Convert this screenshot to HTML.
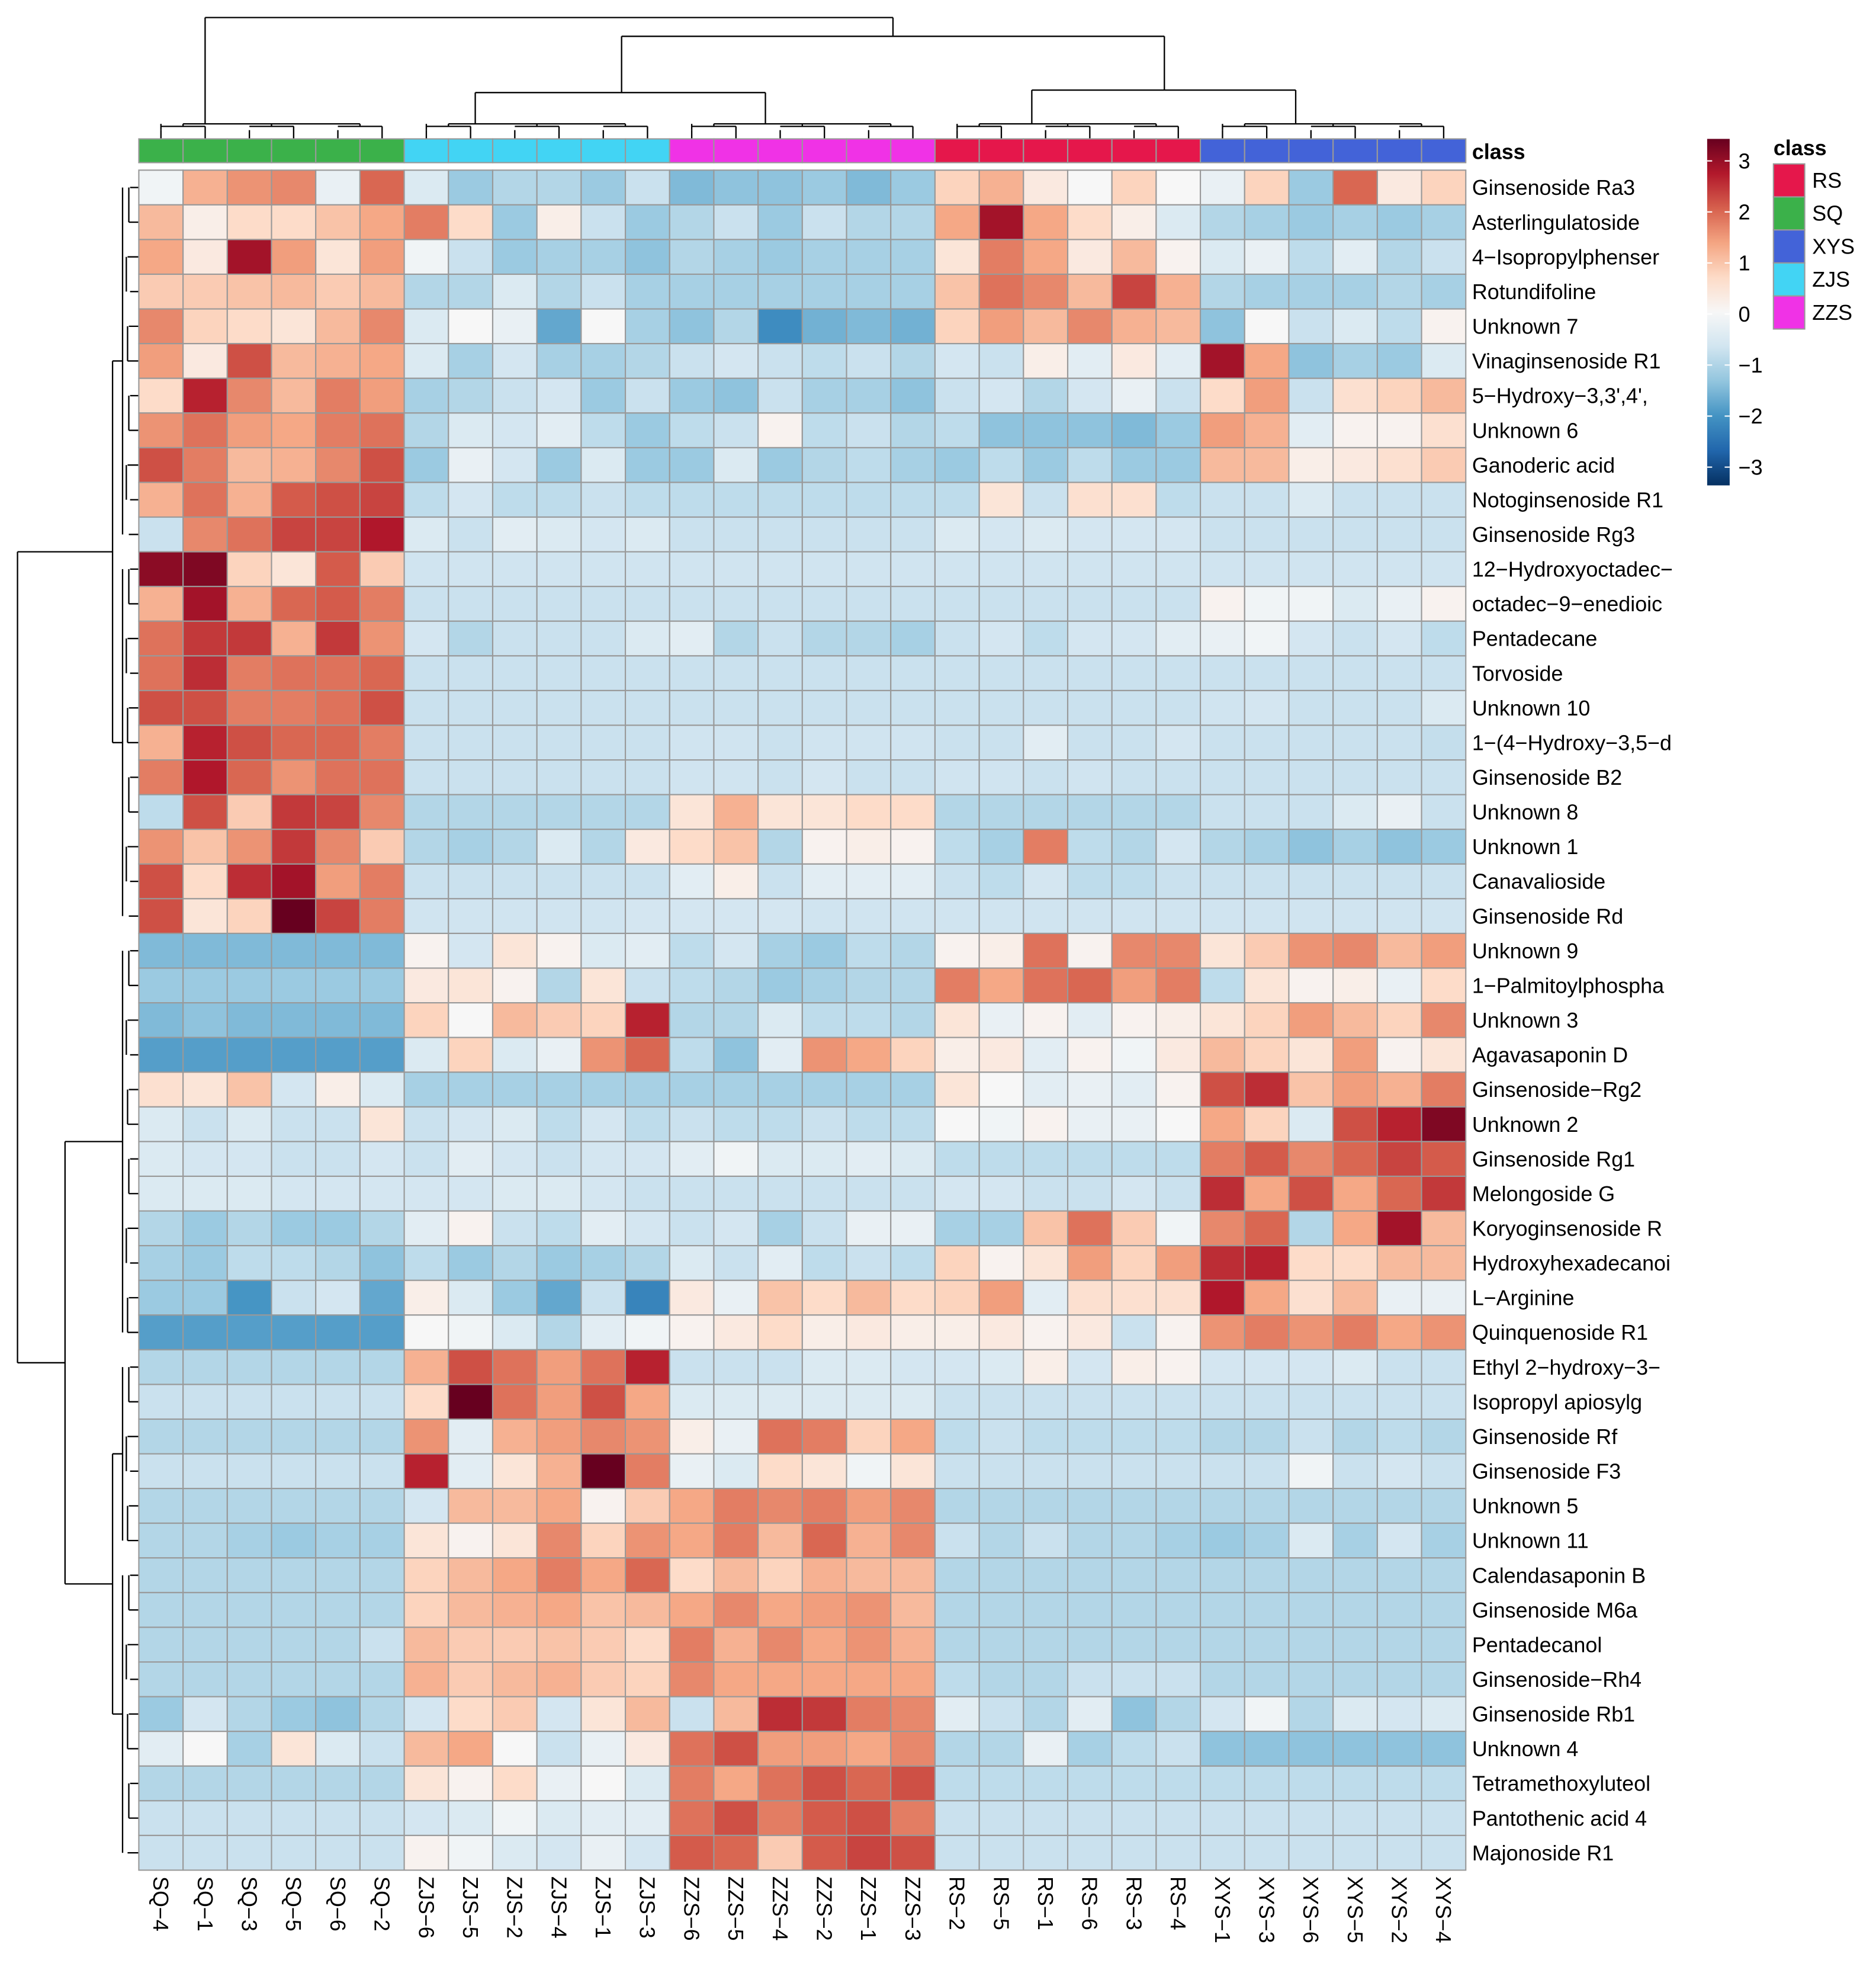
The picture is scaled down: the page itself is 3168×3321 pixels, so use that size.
<!DOCTYPE html>
<html><head><meta charset="utf-8"><style>
html,body{margin:0;padding:0;background:#fff;}
svg{display:block;font-family:"Liberation Sans",Arial,sans-serif;}
</style></head><body>
<svg id="chart" width="3168" height="3321" viewBox="0 0 1500 1572.4" xmlns="http://www.w3.org/2000/svg">
<g id="coldend"></g>
<g id="rowdend"></g>
<g id="classbar"></g>
<g id="cells"></g>
<g id="rowlabels"></g>
<g id="collabels"></g>
<g id="legend"></g>
<g id="classlegend"></g>
</svg>
<script>
const colLabels = ["SQ−4","SQ−1","SQ−3","SQ−5","SQ−6","SQ−2","ZJS−6","ZJS−5","ZJS−2","ZJS−4","ZJS−1","ZJS−3","ZZS−6","ZZS−5","ZZS−4","ZZS−2","ZZS−1","ZZS−3","RS−2","RS−5","RS−1","RS−6","RS−3","RS−4","XYS−1","XYS−3","XYS−6","XYS−5","XYS−2","XYS−4"];
const colClasses = ["SQ","SQ","SQ","SQ","SQ","SQ","ZJS","ZJS","ZJS","ZJS","ZJS","ZJS","ZZS","ZZS","ZZS","ZZS","ZZS","ZZS","RS","RS","RS","RS","RS","RS","XYS","XYS","XYS","XYS","XYS","XYS"];
const classNames = ["RS","SQ","XYS","ZJS","ZZS"];
const classColors = ["#e5174b","#3bb14a","#4363d8","#42d4f4","#f032e6"];
const legendTicks = [3,2,1,0,-1,-2,-3];
const rowLabels = ["Ginsenoside Ra3","Asterlingulatoside","4−Isopropylphenser","Rotundifoline","Unknown 7","Vinaginsenoside R1","5−Hydroxy−3,3',4',","Unknown 6","Ganoderic acid","Notoginsenoside R1","Ginsenoside Rg3","12−Hydroxyoctadec−","octadec−9−enedioic","Pentadecane","Torvoside","Unknown 10","1−(4−Hydroxy−3,5−d","Ginsenoside B2","Unknown 8","Unknown 1","Canavalioside","Ginsenoside Rd","Unknown 9","1−Palmitoylphospha","Unknown 3","Agavasaponin D","Ginsenoside−Rg2","Unknown 2","Ginsenoside Rg1","Melongoside G","Koryoginsenoside R","Hydroxyhexadecanoi","L−Arginine","Quinquenoside R1","Ethyl 2−hydroxy−3−","Isopropyl apiosylg","Ginsenoside Rf","Ginsenoside F3","Unknown 5","Unknown 11","Calendasaponin B","Ginsenoside M6a","Pentadecanol","Ginsenoside−Rh4","Ginsenoside Rb1","Unknown 4","Tetramethoxyluteol","Pantothenic acid 4","Majonoside R1"];
const values = [
[-0.1,1.1,1.4,1.5,-0.2,1.8, -0.4,-1.0,-0.8,-0.8,-1.0,-0.6, -1.2,-1.1,-1.1,-1.0,-1.2,-1.0, 0.7,1.1,0.3,0,0.7,0, -0.2,0.7,-1.0,1.8,0.3,0.7],
[1.0,0.2,0.6,0.6,0.9,1.2, 1.6,0.6,-1.0,0.2,-0.6,-1.0, -0.8,-0.6,-1.0,-0.6,-0.8,-0.8, 1.2,2.6,1.2,0.6,0.2,-0.4, -0.8,-0.9,-1.0,-0.9,-1.0,-0.9],
[1.2,0.3,2.6,1.3,0.4,1.3, -0.1,-0.6,-1.0,-0.9,-0.9,-1.1, -0.8,-0.9,-1.0,-0.9,-0.9,-0.9, 0.4,1.6,1.2,0.3,1.0,0.1, -0.4,-0.2,-0.7,-0.3,-0.8,-0.6],
[0.8,0.8,0.9,1.0,0.8,1.0, -0.8,-0.8,-0.4,-0.8,-0.6,-0.9, -0.9,-0.9,-0.9,-0.9,-0.9,-0.9, 0.9,1.7,1.5,1.0,2.1,1.1, -0.8,-0.9,-0.9,-0.9,-0.8,-0.9],
[1.5,0.7,0.6,0.4,1.0,1.5, -0.4,0,-0.2,-1.4,0,-0.9, -1.1,-0.8,-1.7,-1.3,-1.2,-1.3, 0.7,1.3,1.0,1.5,1.1,1.0, -1.1,0,-0.6,-0.4,-0.7,0.1],
[1.3,0.3,2.0,1.0,1.1,1.2, -0.4,-0.9,-0.5,-0.9,-0.9,-0.8, -0.6,-0.5,-0.6,-0.7,-0.6,-0.8, -0.5,-0.6,0.2,-0.3,0.3,-0.3, 2.6,1.2,-1.1,-0.9,-1.0,-0.4],
[0.6,2.4,1.5,1.0,1.6,1.3, -0.9,-0.8,-0.6,-0.5,-1.0,-0.6, -1.0,-1.1,-0.6,-0.9,-0.9,-1.1, -0.6,-0.5,-0.8,-0.5,-0.2,-0.6, 0.6,1.3,-0.6,0.5,0.7,1.0],
[1.4,1.7,1.3,1.2,1.6,1.7, -0.8,-0.4,-0.5,-0.3,-0.7,-1.0, -0.7,-0.6,0.1,-0.7,-0.6,-0.8, -0.7,-1.1,-1.1,-1.1,-1.2,-1.0, 1.3,1.1,-0.3,0.1,0.1,0.5],
[2.0,1.6,1.0,1.1,1.5,2.0, -1.0,-0.2,-0.5,-1.0,-0.4,-1.0, -1.0,-0.4,-1.0,-0.8,-0.7,-0.9, -1.0,-0.7,-1.0,-0.7,-1.0,-1.0, 1.0,1.0,0.2,0.3,0.5,0.8],
[1.1,1.7,1.1,1.9,2.0,2.1, -0.7,-0.5,-0.7,-0.7,-0.6,-0.7, -0.7,-0.7,-0.7,-0.7,-0.7,-0.7, -0.7,0.4,-0.6,0.5,0.5,-0.7, -0.6,-0.6,-0.4,-0.6,-0.6,-0.6],
[-0.6,1.5,1.7,2.1,2.1,2.5, -0.4,-0.6,-0.3,-0.4,-0.5,-0.4, -0.6,-0.6,-0.6,-0.6,-0.6,-0.6, -0.4,-0.5,-0.4,-0.5,-0.5,-0.5, -0.6,-0.6,-0.6,-0.6,-0.6,-0.6],
[2.8,2.9,0.7,0.4,1.9,0.8, -0.55,-0.55,-0.55,-0.55,-0.55,-0.55, -0.55,-0.55,-0.55,-0.55,-0.55,-0.55, -0.55,-0.55,-0.55,-0.55,-0.55,-0.55, -0.55,-0.55,-0.55,-0.55,-0.55,-0.55],
[1.1,2.6,1.1,1.8,1.9,1.6, -0.6,-0.6,-0.6,-0.6,-0.6,-0.6, -0.6,-0.6,-0.6,-0.6,-0.6,-0.6, -0.6,-0.6,-0.6,-0.6,-0.6,-0.6, 0.1,-0.1,-0.1,-0.4,-0.2,0.1],
[1.7,2.2,2.2,1.1,2.2,1.4, -0.5,-0.8,-0.6,-0.6,-0.6,-0.4, -0.3,-0.8,-0.6,-0.8,-0.8,-0.9, -0.6,-0.5,-0.7,-0.5,-0.5,-0.3, -0.2,-0.1,-0.5,-0.6,-0.5,-0.7],
[1.7,2.3,1.6,1.7,1.7,1.8, -0.6,-0.6,-0.6,-0.6,-0.6,-0.6, -0.6,-0.6,-0.6,-0.6,-0.6,-0.6, -0.6,-0.6,-0.6,-0.6,-0.6,-0.6, -0.6,-0.6,-0.6,-0.6,-0.6,-0.6],
[2.0,2.0,1.6,1.6,1.7,2.0, -0.6,-0.6,-0.6,-0.6,-0.6,-0.6, -0.6,-0.6,-0.6,-0.6,-0.6,-0.6, -0.6,-0.6,-0.6,-0.6,-0.6,-0.6, -0.55,-0.5,-0.6,-0.6,-0.6,-0.4],
[1.1,2.4,2.0,1.8,1.8,1.6, -0.6,-0.6,-0.6,-0.6,-0.6,-0.6, -0.55,-0.55,-0.6,-0.55,-0.55,-0.55, -0.6,-0.6,-0.3,-0.6,-0.6,-0.5, -0.6,-0.6,-0.6,-0.6,-0.6,-0.65],
[1.6,2.5,1.8,1.4,1.7,1.7, -0.6,-0.6,-0.6,-0.6,-0.6,-0.6, -0.55,-0.55,-0.6,-0.5,-0.6,-0.6, -0.55,-0.55,-0.6,-0.55,-0.6,-0.6, -0.6,-0.6,-0.6,-0.6,-0.6,-0.6],
[-0.7,2.0,0.8,2.2,2.1,1.5, -0.8,-0.8,-0.8,-0.8,-0.8,-0.8, 0.4,1.1,0.4,0.4,0.6,0.6, -0.8,-0.8,-0.8,-0.8,-0.8,-0.8, -0.6,-0.6,-0.6,-0.4,-0.2,-0.6],
[1.4,0.9,1.4,2.2,1.5,0.8, -0.8,-0.9,-0.8,-0.4,-0.8,0.3, 0.6,0.9,-0.8,0.1,0.2,0.1, -0.7,-0.9,1.6,-0.7,-0.8,-0.5, -0.8,-0.9,-1.1,-0.9,-1.1,-1.0],
[2.0,0.6,2.3,2.6,1.3,1.6, -0.6,-0.6,-0.6,-0.6,-0.6,-0.6, -0.3,0.2,-0.6,-0.3,-0.3,-0.3, -0.6,-0.7,-0.5,-0.7,-0.7,-0.6, -0.6,-0.6,-0.6,-0.6,-0.6,-0.6],
[2.0,0.4,0.7,3.2,2.1,1.6, -0.55,-0.55,-0.55,-0.55,-0.55,-0.5, -0.5,-0.5,-0.5,-0.55,-0.55,-0.55, -0.55,-0.55,-0.55,-0.55,-0.55,-0.55, -0.55,-0.55,-0.55,-0.55,-0.55,-0.55],
[-1.2,-1.2,-1.2,-1.2,-1.2,-1.2, 0.1,-0.5,0.4,0.1,-0.4,-0.3, -0.7,-0.5,-0.9,-1.0,-0.7,-0.8, 0.1,0.2,1.7,0.1,1.5,1.5, 0.4,0.8,1.4,1.5,1.0,1.3],
[-1.0,-1.0,-1.0,-1.0,-1.0,-1.0, 0.3,0.4,0.1,-0.8,0.4,-0.6, -0.7,-0.8,-1.0,-0.9,-0.8,-0.8, 1.6,1.2,1.7,1.8,1.3,1.6, -0.7,0.4,0.1,0.2,-0.2,0.6],
[-1.2,-1.1,-1.2,-1.2,-1.2,-1.2, 0.7,0,1.0,0.8,0.7,2.4, -0.8,-0.8,-0.4,-0.7,-0.7,-0.8, 0.4,-0.2,0.1,-0.3,0.1,0.2, 0.4,0.7,1.3,1.0,0.7,1.5],
[-1.5,-1.5,-1.5,-1.5,-1.5,-1.5, -0.4,0.7,-0.4,-0.2,1.4,1.8, -0.7,-1.1,-0.3,1.4,1.2,0.7, 0.2,0.3,-0.3,0.1,-0.1,0.3, 1.0,0.7,0.4,1.3,0.1,0.4],
[0.5,0.4,0.9,-0.5,0.2,-0.4, -0.9,-0.9,-0.9,-0.9,-0.9,-0.9, -0.9,-0.9,-0.9,-0.9,-0.9,-0.9, 0.4,0,-0.3,-0.2,-0.3,0.1, 2.0,2.3,0.9,1.3,1.1,1.6],
[-0.4,-0.6,-0.4,-0.6,-0.6,0.4, -0.6,-0.5,-0.4,-0.7,-0.5,-0.7, -0.6,-0.7,-0.7,-0.6,-0.7,-0.7, 0,-0.1,0.1,-0.2,-0.2,0, 1.2,0.7,-0.4,2.0,2.4,2.9],
[-0.4,-0.5,-0.5,-0.6,-0.6,-0.5, -0.6,-0.3,-0.5,-0.6,-0.5,-0.5, -0.3,-0.1,-0.4,-0.4,-0.3,-0.4, -0.7,-0.7,-0.7,-0.7,-0.7,-0.7, 1.6,1.9,1.5,1.8,2.1,1.9],
[-0.4,-0.4,-0.4,-0.5,-0.5,-0.5, -0.5,-0.5,-0.4,-0.4,-0.5,-0.6, -0.6,-0.6,-0.6,-0.6,-0.6,-0.6, -0.5,-0.5,-0.6,-0.6,-0.5,-0.6, 2.3,1.2,2.0,1.2,1.8,2.2],
[-0.8,-1.0,-0.8,-1.0,-1.0,-0.8, -0.3,0.1,-0.6,-0.7,-0.3,-0.5, -0.6,-0.5,-0.9,-0.6,-0.2,-0.2, -0.9,-0.9,0.9,1.7,0.8,-0.1, 1.5,1.8,-0.8,1.2,2.6,1.0],
[-0.9,-1.0,-0.7,-0.7,-0.8,-1.1, -0.7,-1.0,-0.8,-1.0,-0.9,-0.8, -0.4,-0.6,-0.3,-0.7,-0.6,-0.7, 0.7,0.1,0.4,1.3,0.7,1.3, 2.3,2.4,0.6,0.6,1.0,1.0],
[-1.0,-1.0,-1.6,-0.6,-0.5,-1.4, 0.2,-0.4,-1.0,-1.4,-0.6,-1.8, 0.3,-0.2,0.9,0.6,1.0,0.6, 0.7,1.3,-0.3,0.5,0.5,0.5, 2.5,1.2,0.5,1.0,-0.2,-0.2],
[-1.5,-1.5,-1.5,-1.5,-1.5,-1.5, 0,-0.1,-0.4,-0.8,-0.3,-0.1, 0.1,0.3,0.6,0.2,0.3,0.2, 0.2,0.3,0.1,0.3,-0.6,0.1, 1.4,1.6,1.4,1.6,1.2,1.4],
[-0.8,-0.8,-0.8,-0.8,-0.8,-0.8, 1.1,2.0,1.7,1.3,1.7,2.4, -0.6,-0.6,-0.6,-0.4,-0.4,-0.5, -0.5,-0.4,0.2,-0.5,0.2,0.1, -0.5,-0.5,-0.5,-0.4,-0.6,-0.6],
[-0.6,-0.6,-0.6,-0.6,-0.6,-0.6, 0.6,3.2,1.7,1.3,2.0,1.2, -0.4,-0.4,-0.4,-0.4,-0.4,-0.4, -0.6,-0.6,-0.6,-0.6,-0.6,-0.6, -0.6,-0.6,-0.6,-0.6,-0.6,-0.6],
[-0.8,-0.8,-0.8,-0.8,-0.8,-0.8, 1.4,-0.3,1.1,1.3,1.5,1.4, 0.2,-0.2,1.7,1.6,0.7,1.2, -0.7,-0.6,-0.7,-0.7,-0.7,-0.7, -0.8,-0.8,-0.6,-0.8,-0.7,-0.8],
[-0.6,-0.6,-0.6,-0.6,-0.6,-0.6, 2.4,-0.3,0.4,1.1,3.2,1.6, -0.2,-0.4,0.6,0.4,-0.1,0.4, -0.6,-0.6,-0.6,-0.6,-0.6,-0.6, -0.6,-0.6,-0.1,-0.6,-0.5,-0.6],
[-0.8,-0.8,-0.8,-0.8,-0.8,-0.8, -0.5,1.0,1.0,1.2,0.1,0.8, 1.2,1.6,1.5,1.6,1.3,1.5, -0.8,-0.8,-0.8,-0.8,-0.8,-0.8, -0.8,-0.8,-0.8,-0.8,-0.8,-0.8],
[-0.8,-0.8,-0.9,-1.0,-0.9,-0.9, 0.4,0.1,0.4,1.5,0.7,1.4, 1.2,1.6,1.0,1.8,1.1,1.5, -0.6,-0.8,-0.6,-0.8,-0.8,-0.9, -1.0,-0.9,-0.4,-0.9,-0.5,-0.9],
[-0.8,-0.8,-0.8,-0.8,-0.8,-0.8, 0.7,1.0,1.2,1.6,1.2,1.8, 0.6,1.0,0.7,1.1,1.0,1.0, -0.8,-0.8,-0.8,-0.8,-0.8,-0.8, -0.8,-0.8,-0.8,-0.8,-0.8,-0.8],
[-0.8,-0.8,-0.8,-0.8,-0.8,-0.8, 0.7,1.0,1.1,1.2,0.9,1.0, 1.2,1.5,1.2,1.3,1.4,1.0, -0.8,-0.8,-0.8,-0.8,-0.8,-0.8, -0.8,-0.8,-0.8,-0.8,-0.8,-0.8],
[-0.8,-0.8,-0.8,-0.8,-0.8,-0.6, 1.0,0.8,0.8,0.9,0.8,0.6, 1.6,1.1,1.5,1.2,1.4,1.1, -0.8,-0.8,-0.8,-0.8,-0.8,-0.8, -0.8,-0.8,-0.8,-0.8,-0.8,-0.8],
[-0.8,-0.8,-0.8,-0.8,-0.8,-0.8, 1.1,0.8,1.0,1.1,0.8,0.7, 1.5,1.2,1.2,1.2,1.2,1.2, -0.7,-0.8,-0.8,-0.6,-0.6,-0.6, -0.8,-0.8,-0.8,-0.8,-0.8,-0.8],
[-1.0,-0.5,-0.8,-1.0,-1.1,-0.8, -0.5,0.6,0.8,-0.5,0.4,1.0, -0.6,1.0,2.3,2.2,1.6,1.5, -0.3,-0.6,-0.8,-0.3,-1.1,-0.8, -0.5,-0.1,-0.8,-0.4,-0.5,-0.4],
[-0.3,0,-0.9,0.4,-0.4,-0.6, 1.0,1.2,0,-0.6,-0.2,0.3, 1.7,2.0,1.3,1.3,1.2,1.5, -0.8,-0.8,-0.2,-0.9,-0.7,-0.6, -1.1,-1.1,-1.1,-1.1,-1.1,-1.1],
[-0.8,-0.8,-0.8,-0.8,-0.8,-0.8, 0.4,0.1,0.6,-0.2,0,-0.4, 1.6,1.2,1.7,2.0,1.8,2.0, -0.7,-0.7,-0.7,-0.7,-0.7,-0.7, -0.7,-0.7,-0.7,-0.7,-0.7,-0.7],
[-0.6,-0.6,-0.6,-0.6,-0.6,-0.6, -0.5,-0.4,-0.1,-0.4,-0.3,-0.3, 1.7,2.0,1.6,1.9,2.0,1.6, -0.6,-0.6,-0.6,-0.6,-0.6,-0.6, -0.6,-0.6,-0.6,-0.6,-0.6,-0.6],
[-0.6,-0.6,-0.6,-0.6,-0.6,-0.6, 0.1,-0.1,-0.4,-0.5,-0.2,-0.5, 1.9,1.8,0.8,1.9,2.1,2.0, -0.6,-0.6,-0.6,-0.6,-0.6,-0.6, -0.6,-0.6,-0.6,-0.6,-0.6,-0.6]
];

const NS = "http://www.w3.org/2000/svg";
const X0 = 111, X1 = 1172, Y0 = 136, Y1 = 1495;
const cw = (X1 - X0) / colLabels.length, rh = (Y1 - Y0) / rowLabels.length;
function xPos(i){ return X0 + i * cw; }
function yPos(j){ return Y0 + j * rh; }
const stops = ["#053061","#2166ac","#4393c3","#92c5de","#d1e5f0","#f7f7f7","#fddbc7","#f4a582","#d6604d","#b2182b","#67001f"];
function hex(c){ return [parseInt(c.substr(1,2),16),parseInt(c.substr(3,2),16),parseInt(c.substr(5,2),16)]; }
function colorOf(v){
  const lim = v < 0 ? 2.7 : 3.1;
  let t = (Math.max(-lim, Math.min(lim, v)) / lim + 1) / 2 * (stops.length - 1);
  const k = Math.min(stops.length - 2, Math.floor(t)), f = t - k;
  const a = hex(stops[k]), b = hex(stops[k+1]);
  return "rgb(" + a.map((x,i)=>Math.round(x + (b[i]-x)*f)).join(",") + ")";
}
function mk(tag, attrs, parent){
  const e = document.createElementNS(NS, tag);
  for (const k in attrs) e.setAttribute(k, attrs[k]);
  parent.appendChild(e); return e;
}
function line(x1,y1,x2,y2,p){
  const l = mk("line",{x1:x1,y1:y1,x2:x2,y2:y2,stroke:"#000","stroke-width":1.1},p);
  
  
}

const cellsG = document.getElementById("cells");
values.forEach((row, j) => row.forEach((v, i) => {
  const r = mk("rect",{x:xPos(i),y:yPos(j),width:cw,height:rh,fill:colorOf(v),stroke:"#999","stroke-width":1},cellsG);
  
  
}));

const cb = document.getElementById("classbar");
colClasses.forEach((c, i) => {
  const r = mk("rect",{x:xPos(i),y:111,width:cw,height:19,fill:classColors[classNames.indexOf(c)],stroke:"#999","stroke-width":1},cb);
  
  
});
const ct = mk("text",{x:1177,y:127,"font-size":17,"font-weight":"bold"},cb);
ct.textContent = "class";



const rl = document.getElementById("rowlabels");
rowLabels.forEach((s, j) => {
  const t = mk("text",{x:1177,y:yPos(j)+rh/2+6,"font-size":17},rl);
  t.textContent = s;
  
  
});
const cl = document.getElementById("collabels");
colLabels.forEach((s, i) => {
  const cx = xPos(i) + cw/2 - 6, y = 1500;
  const t = mk("text",{x:cx,y:y,"font-size":17,transform:"rotate(90 "+cx+" "+y+")"},cl);
  t.textContent = s;
  
  
});

const cd = document.getElementById("coldend");
function cc(i){ return xPos(i) + cw/2; }
function colGroup(a, b, topY, midX){
  const leafTop = 104;
  for (let i=a;i<=b;i++){ line(cc(i),111,cc(i),leafTop - ((i-a)%2)*3,cd); }
  for (let i=a;i<b;i+=2){ const y = leafTop - 3; line(cc(i),y,cc(Math.min(i+1,b)),y,cd); }
  const mid = midX || (cc(a)+cc(b))/2;
  line(cc(a)+cw*0.5, 99, cc(b)-cw*0.5, 99, cd);
  for (let i=a;i<b;i+=2){ const x=(cc(i)+cc(Math.min(i+1,b)))/2; line(x,101,x,99,cd); }
  line(cc(a), 99, cc(a), 104, cd);
  line(mid, 99, mid, topY, cd);
  return mid;
}
const sq = colGroup(0,5,14,164), zj = colGroup(6,11,74,380), zz = colGroup(12,17,74,612), rs = colGroup(18,23,72,825), xy = colGroup(24,29,72,1036);
line(zj,74,zz,74,cd);
line(rs,72,xy,72,cd);
const zmid=497, rmid=931;
line(zmid,74,zmid,29,cd); line(rmid,72,rmid,29,cd);
line(zmid,29,rmid,29,cd);
const top2=714;
line(top2,29,top2,14,cd);
line(sq,14,top2,14,cd);

const rd = document.getElementById("rowdend");
function rc(j){ return yPos(j) + rh/2; }
function rowGroup(a, b, nodeX){
  for (let j=a;j<=b;j++){ line(111,rc(j),104 - ((j-a)%3),rc(j),rd); }
  for (let j=a;j<b;j+=2){ const x = 103 - ((j-a)%3); line(x,rc(j),x,rc(Math.min(j+1,b)),rd); }
  line(98,rc(a),98,rc(b),rd);
  const mid=(rc(a)+rc(b))/2;
  line(98,mid,nodeX,mid,rd);
  return mid;
}
const g1 = rowGroup(0,10,90), g2 = rowGroup(11,21,90);
line(90,g1,90,g2,rd);
const t1=(g1+g2)/2;
const g3 = rowGroup(22,33,52);
const g4a = rowGroup(34,39,90), g4b = rowGroup(40,48,90);
line(90,g4a,90,g4b,rd);
const g4=(g4a+g4b)/2;
line(90,g4,52,g4,rd);
line(52,g3,52,g4,rd);
const b2=(g3+g4)/2;
line(52,b2,14,b2,rd);
line(90,t1,14,t1,rd);
line(14,t1,14,b2,rd);

const lg = document.getElementById("legend");
const defs = mk("defs",{},lg);
const grad = mk("linearGradient",{id:"lgrad",x1:0,y1:1,x2:0,y2:0},defs);
stops.forEach((c,k)=>mk("stop",{offset:(k/(stops.length-1)),"stop-color":c},grad));
const bar = mk("rect",{x:1365,y:111,width:18,height:277,fill:"url(#lgrad)"},lg);


function legY(v){ return 251 - v * 40.8; }
legendTicks.forEach(v => {
  mk("line",{x1:1365,x2:1369,y1:legY(v),y2:legY(v),stroke:"#fff","stroke-width":1},lg);
  mk("line",{x1:1379,x2:1383,y1:legY(v),y2:legY(v),stroke:"#fff","stroke-width":1},lg);
  const t = mk("text",{x:1390,y:legY(v)+6,"font-size":17},lg);
  t.textContent = v < 0 ? "−" + Math.abs(v) : String(v);
  
  
});

const cl2 = document.getElementById("classlegend");
const clt = mk("text",{x:1418,y:124,"font-size":17,"font-weight":"bold"},cl2);
clt.textContent = "class";


classNames.forEach((n,k) => {
  const r = mk("rect",{x:1418,y:131+k*26.4,width:25,height:26.4,fill:classColors[k],stroke:"#999","stroke-width":1},cl2);
  
  
  const t = mk("text",{x:1449,y:131+k*26.4+19,"font-size":17},cl2);
  t.textContent = n;
  
  
});
</script>
</body></html>
